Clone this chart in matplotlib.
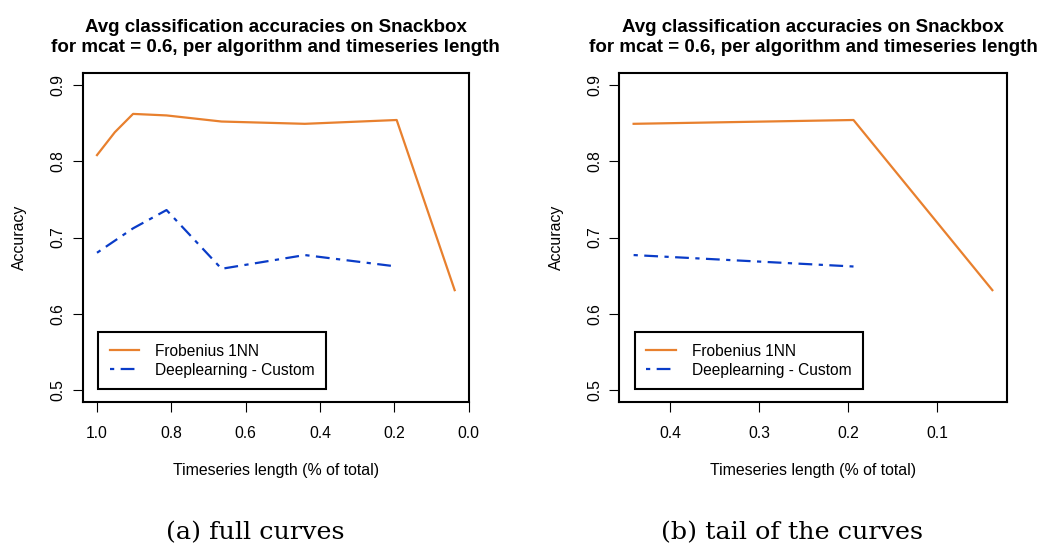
import matplotlib
matplotlib.use('Agg')
import matplotlib.pyplot as plt
import numpy as np

# values
length_frob = [1.0, 0.952, 0.903, 0.813, 0.665, 0.441, 0.194, 0.038]
acc_frob = [0.808, 0.838, 0.862, 0.860, 0.852, 0.849, 0.854, 0.631]
length_dl = [1.0, 0.903, 0.813, 0.665, 0.441, 0.194]
acc_dl = [0.680, 0.712, 0.736, 0.659, 0.677, 0.662]
series_names = ['Frobenius 1NN', 'Deeplearning - Custom']
captions = ['(a) full curves', '(b) tail of the curves']
tail_cut = 0.45

title = 'Avg classification accuracies on Snackbox\nfor mcat = 0.6, per algorithm and timeseries length'
orange = '#E8802E'
blue = '#0A3CC8'

plt.rcParams['font.family'] = ['Liberation Sans', 'DejaVu Sans']

fig = plt.figure(figsize=(10.48, 5.47), dpi=100)
ax_left = fig.add_axes([0.0789, 0.2645, 0.3686, 0.6026])
ax_right = fig.add_axes([0.5909, 0.2645, 0.3697, 0.6026])


def r_lim(vals):
  lo, hi = min(vals), max(vals)
  pad = 0.04 * (hi - lo)
  return hi + pad, lo - pad


def draw(ax, xf, yf, xd, yd, xticks):
  ax.plot(xf, yf, color=orange, lw=1.6, label=series_names[0])
  ax.plot(xd, yd, color=blue, lw=1.6, dashes=(1.9, 2.9, 6.2, 2.9), label=series_names[1])
  ax.set_xlim(*r_lim(list(xf) + list(xd)))
  ax.set_ylim(0.484, 0.916)
  ax.set_xticks(xticks)
  ax.set_xticklabels(['%.1f' % t for t in xticks])
  ax.set_yticks([0.5, 0.6, 0.7, 0.8, 0.9])
  ax.tick_params(length=7.2, width=0.8, labelsize=11.3, direction='out')
  ax.tick_params(axis='x', pad=10)
  ax.tick_params(axis='y', pad=5)
  plt.setp(ax.get_yticklabels(), rotation=90, va='center')
  for s in ax.spines.values():
    s.set_linewidth(1.5)
  ax.set_xlabel('Timeseries length (% of total)', fontsize=11.4, labelpad=16)
  ax.set_ylabel('Accuracy', fontsize=11.4, labelpad=17)
  ax.set_title(title, fontsize=13.5, fontweight='bold', pad=15, linespacing=1.2)
  leg = ax.legend(loc='lower left', bbox_to_anchor=(0.040, 0.039), fontsize=11.2,
                  frameon=True, fancybox=False, edgecolor='black', framealpha=1,
                  handlelength=1.9, handletextpad=1.0, borderpad=0.75,
                  labelspacing=0.25, borderaxespad=0)
  leg.get_frame().set_linewidth(1.5)


draw(ax_left, length_frob, acc_frob, length_dl, acc_dl, [1.0, 0.8, 0.6, 0.4, 0.2, 0.0])

tail_f = [(x, y) for x, y in zip(length_frob, acc_frob) if x < tail_cut]
tail_d = [(x, y) for x, y in zip(length_dl, acc_dl) if x < tail_cut]
draw(ax_right, [p[0] for p in tail_f], [p[1] for p in tail_f],
     [p[0] for p in tail_d], [p[1] for p in tail_d], [0.4, 0.3, 0.2, 0.1])

fig.text(0.244, 0.014, captions[0], ha='center', va='baseline', fontsize=18.3,
         family=['DejaVu Serif', 'Liberation Serif'])
fig.text(0.756, 0.014, captions[1], ha='center', va='baseline', fontsize=18.3,
         family=['DejaVu Serif', 'Liberation Serif'])

fig.savefig('out.png', dpi=100)
